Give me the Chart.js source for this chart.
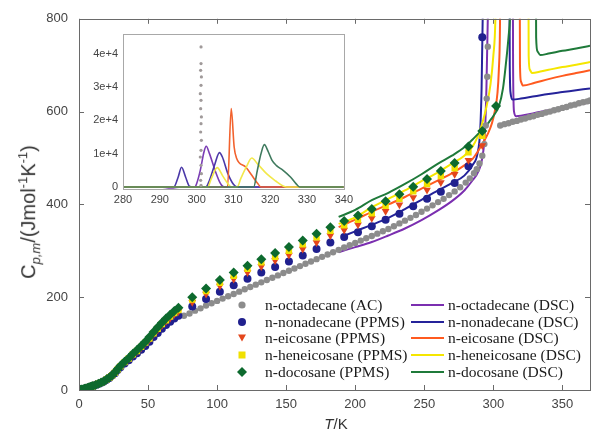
<!DOCTYPE html>
<html>
<head>
<meta charset="utf-8">
<script src="https://cdn.jsdelivr.net/npm/chart.js@4.4.1/dist/chart.umd.min.js"></script>
<style>
  body { margin: 0; background: #fff; }
  #wrap { position: relative; width: 595px; height: 434px; overflow: hidden; font-family: "Liberation Sans", Arial, sans-serif; }
  #main { position: absolute; left: 0; top: 0; }
  #inset { position: absolute; left: 85px; top: 22px; }
  .ytitle { position: absolute; left: 29px; top: 212px; transform: translate(-50%, -50%) rotate(-90deg); white-space: nowrap; font-size: 20px; color: #333; }
  .ytitle sub, .ytitle sup { font-size: 13px; }
  .xtitle { position: absolute; left: 336px; top: 423px; transform: translate(-50%, -50%); font-size: 15px; color: #333; white-space: nowrap; }
  .lg { position: absolute; font-family: "Liberation Serif", "Times New Roman", serif; font-size: 15.5px; color: #1a1a1a; white-space: nowrap; line-height: 16px; }
</style>
</head>
<body>
<div id="wrap">
  <canvas id="main" width="595" height="434"></canvas>
  <canvas id="inset" width="272" height="190"></canvas>
  <div class="ytitle">C<sub><i>p,m</i></sub>/(Jmol<sup>-1</sup>K<sup>-1</sup>)</div>
  <div class="xtitle"><i>T</i>/K</div>
  <div id="legend"></div>
</div>
<script>
// ---- main plot data (T in K, Cp in J/mol/K) ----
const ppmsT = [1,2,3,4,5,6,7,8,9,10,12,14,16,18,20,22,24,26,28,30,33,36,39,42,45,48,51,54,57,60,63,66,69,72,82,92,102,112,122,132,142,152,162,172,182,192,202,212,222,232,242,252,262,272,282,292];

const c19Cp = [0.5,1,1.5,2.5,3.5,4.5,5.5,6.5,7.5,8.5,11,13,15.5,18.5,22,26,31,36,43,49,57,64,72,79,87,95,104,114,123,132,140,147,154,160,180,196,212,226,240,253,265,277,290,304,318,330,340,353,367,380,396,412,427,446,482,760];
const c20Cp = [0.5,1,1.5,2.5,3.5,4.5,5.5,6.5,7.5,8.5,11,13.5,16,19,22.5,26.5,31.5,37,44,50.5,59,67,75,83,91,100,109,120,130,139,148,155,163,169,189,207,224,239,253,266,279,291,304,318,333,345,356,370,385,399,415,431,447,465,495,527];
const c21Cp = [0.5,1,1.5,2.5,3.5,4.5,5.5,6.5,7.5,8.5,11,13.5,16,19,23,27,31.5,37.5,44.5,51,60,68,77,84,93,102,111,122,132,142,150,158,166,172,195,213,231,246,261,275,287,300,314,329,343,355,367,381,397,412,428,444,461,478,512,548];
const c22T = [...ppmsT, 302];
const c22Cp = [0.5,1,1.5,2.5,3.5,4.5,5.5,6.5,7.5,8.5,11,13.5,16,19,23,27,32,38,45,52,61,69,78,86,95,104,114,125,135,145,154,162,170,177,200,219,237,253,268,282,295,308,322,337,351,364,376,390,407,422,438,455,472,489,525,558,612];

const acT = [76,80,84,88,92,96,100,104,108,112,116,120,124,128,132,136,140,144,148,152,156,160,164,168,172,176,180,184,188,192,196,200,204,208,212,216,220,224,228,232,236,240,244,248,252,256,260,264,268,272,276,280,283,286,288,290,292,293.5,294.5,295.2,295.6,296,
  305,308,311,314,317,320,323,326,329,332,335,338,341,344,347,350,353,356,359,362,365,368,370];
const acCp = [160,165,171,176,182,187,192,197,202,207,212,217,222,227,232,237,242,247,252,257,262,267,272,277,282,287,292,297,302,307,312,317,322,327,332,337,342,347,353,359,365,371,377,384,391,398,405,412,420,428,437,447,456,467,476,488,505,530,570,628,675,740,
  570,573,575,578,580,583,585,588,590,593,595,598,600,603,605,608,610,613,615,618,620,622,624];

const dsc18T = [188,200,212,224,236,248,260,270,279,285,289,292,294,295,296,297,314,314.3,315,316.5,320,330,340,350,360,370];
const dsc18Cp = [297,308,319,333,348,366,387,407,430,452,470,500,560,650,800,1000,1000,700,600,590,591,597,603,608,614,620];
const dsc19T = [190,200,212,224,236,248,260,270,279,285,288.5,290.5,291.5,292.3,293,311.6,311.9,312.5,314,320,330,340,350,360,370];
const dsc19Cp = [330,342,356,371,390,410,430,446,462,485,509,560,650,800,1000,1000,700,640,626,628,633,638,642,646,650];
const dsc20T = [188,200,212,224,236,248,260,270,279,285,289,292,296,299,301,303,304,304.8,305.3,319,319.3,320,321.5,330,340,350,360,370];
const dsc20Cp = [351,367,384,400,416,434,452,467,484,498,515,530,552,575,600,640,690,780,1000,1000,700,665,656,662,670,677,683,689];
const dsc21T = [188,200,212,224,236,248,260,270,279,285,288.5,292,295,298,300,301.5,302.5,325.3,325.6,326.5,328,335,340,350,360,370];
const dsc21Cp = [358,372,394,412,430,450,469,488,505,525,545,575,610,660,720,800,1000,1000,720,690,683,687,690,696,701,707];
const dsc22T = [188,200,212,224,236,248,260,270,279,285,289,293,297,301,304,307,309,311,312,314,330.7,331,332,334,340,350,360,370];
const dsc22Cp = [373,388,409,425,444,465,488,505,523,540,552,563,578,595,611,650,700,760,800,1000,1000,760,730,722,725,731,736,742];

const xTicks = [0,50,100,150,200,250,300,350];
const yTicks = [0,200,400,600,800];

// ---- inset data (T in K, heat flow) ----
const inT18 = [280,285,290,293,296,299.5,300,301,302,302.6,303.5,305,306.5,307.5,315,325,340];
const inV18 = [0,0,0,-300,0,0,1000,5000,10500,12200,10000,5000,1000,0,0,0,0];
const inT19 = [280,285,290,293.8,295,295.9,297,298,299,302.5,303.5,305,306.2,307,308.5,310,311,320,340];
const inV19 = [0,0,0,0,3000,5900,3000,300,0,0,2000,7000,10300,9000,4000,800,0,0,0];
const inT20 = [280,290,300,308.4,309.4,310.2,310.8,313.4,315,316.5,317.5,325,340];
const inV20 = [0,0,0,0,23500,12000,8800,5900,3500,1200,0,0,0];
const inT21 = [280,290,300,303,304,305.6,307,308.5,309.5,311,312,313.5,315,316.5,319,321.5,323.5,324.5,330,340];
const inV21 = [0,0,0,0,2500,5800,3500,1000,0,0,2500,6000,8700,7000,4000,1800,300,0,0,0];
const inT22 = [280,290,300,310,315.5,316.5,317.5,318.4,319.5,320.5,321.7,323.5,325.5,327,328,335,340];
const inV22 = [0,0,0,0,0,5000,10000,12700,10500,8000,6400,5000,3000,1000,0,0,0];
const inAcT = [301.2,301.1,301.3,301.2,301.0,301.2,301.3,301.1,301.2,301.3,301.1,301.2,301.0,301.2,301.3,301.1,301.2,301.2];
const inAcV = [500,2000,4000,6500,9000,11000,14000,16500,19000,21000,23500,26000,28000,30500,33000,35000,37000,42000];
const inXTicks = [280,290,300,310,320,330,340];
const inYTicks = [0,10000,20000,30000,40000];

const xy = (ts, vs) => ts.map((t, i) => ({ x: t, y: vs[i] }));

const col = { c18: '#7b2fb0', c19: '#25239a', c20: '#ff5a1f', c21: '#f5e600', c22: '#1f7a3a', ac: '#8c8c8c' };

const framePlugin = {
  id: 'frame',
  afterDraw(chart, args, opts) {
    const { ctx, chartArea: a, scales } = chart;
    ctx.save();
    ctx.strokeStyle = opts.color;
    ctx.lineWidth = 1;
    ctx.strokeRect(Math.round(a.left) + 0.5, Math.round(a.top) + 0.5, Math.round(a.right - a.left), Math.round(a.bottom - a.top));
    if (opts.tick) {
      ctx.beginPath();
      scales.x.ticks.forEach(t => {
        const p = Math.round(scales.x.getPixelForValue(t.value)) + 0.5;
        ctx.moveTo(p, a.bottom); ctx.lineTo(p, a.bottom - opts.tick);
        ctx.moveTo(p, a.top); ctx.lineTo(p, a.top + opts.tick);
      });
      scales.y.ticks.forEach(t => {
        const p = Math.round(scales.y.getPixelForValue(t.value)) + 0.5;
        ctx.moveTo(a.left, p); ctx.lineTo(a.left + opts.tick, p);
        ctx.moveTo(a.right, p); ctx.lineTo(a.right - opts.tick, p);
      });
      ctx.stroke();
    }
    ctx.restore();
  }
};

function pts(label, ts, vs, color, style, r, rot) {
  return { label, data: xy(ts, vs), showLine: false, pointStyle: style, pointRadius: r, pointRotation: rot || 0,
    backgroundColor: color, borderColor: color, pointBorderWidth: 0 };
}
function line(label, ts, vs, color, w) {
  return { label, data: xy(ts, vs), showLine: true, pointRadius: 0, borderColor: color, borderWidth: w,
    cubicInterpolationMode: 'monotone', fill: false };
}

new Chart(document.getElementById('main'), {
  type: 'scatter',
  data: {
    datasets: [
      pts('n-docosane (PPMS)', c22T, c22Cp, '#0d6a2e', 'rectRot', 5),
      pts('n-heneicosane (PPMS)', ppmsT, c21Cp, '#f0e000', 'rect', 4.5),
      pts('n-eicosane (PPMS)', ppmsT, c20Cp, '#e4461c', 'triangle', 4.5, 180),
      pts('n-nonadecane (PPMS)', ppmsT, c19Cp, '#20208e', 'circle', 4),
      pts('n-octadecane (AC)', acT, acCp, col.ac, 'circle', 3.2),
      line('n-docosane (DSC)', dsc22T, dsc22Cp, col.c22, 2),
      line('n-heneicosane (DSC)', dsc21T, dsc21Cp, col.c21, 2),
      line('n-eicosane (DSC)', dsc20T, dsc20Cp, col.c20, 2),
      line('n-nonadecane (DSC)', dsc19T, dsc19Cp, col.c19, 2),
      line('n-octadecane (DSC)', dsc18T, dsc18Cp, col.c18, 2)
    ]
  },
  options: {
    responsive: false,
    animation: false,
    devicePixelRatio: 1,
    layout: { padding: { left: 0, right: 1, top: 18, bottom: 0 } },
    plugins: { legend: { display: false }, tooltip: { enabled: false }, frame: { color: '#6a6a6a', tick: 5 } },
    scales: {
      x: {
        type: 'linear', min: 0, max: 370,
        grid: { display: false, drawTicks: false }, border: { display: false },
        ticks: { color: '#444', font: { family: 'Liberation Sans', size: 13 }, padding: 7 },
        afterBuildTicks: s => { s.ticks = xTicks.map(v => ({ value: v })); },
        afterFit: s => { s.height = 44; }
      },
      y: {
        type: 'linear', min: 0, max: 800,
        grid: { display: false, drawTicks: false }, border: { display: false },
        ticks: { color: '#444', font: { family: 'Liberation Sans', size: 13 }, padding: 11 },
        afterBuildTicks: s => { s.ticks = yTicks.map(v => ({ value: v })); },
        afterFit: s => { s.width = 79; }
      }
    }
  },
  plugins: [framePlugin]
});

function iline(ts, vs, color) {
  return { data: xy(ts, vs), showLine: true, pointRadius: 0, borderColor: color, borderWidth: 1.6, cubicInterpolationMode: 'monotone' };
}

new Chart(document.getElementById('inset'), {
  type: 'scatter',
  data: {
    datasets: [
      { data: xy(inAcT, inAcV), showLine: false, pointRadius: 1.6, backgroundColor: '#a09a9a', borderColor: '#a09a9a', pointBorderWidth: 0 },
      iline(inT22, inV22, '#3f7a5e'),
      iline(inT21, inV21, '#f2e84a'),
      iline(inT20, inV20, '#f2622e'),
      iline(inT19, inV19, '#4a38a8'),
      iline(inT18, inV18, '#7a3cb4')
    ]
  },
  options: {
    responsive: false,
    animation: false,
    devicePixelRatio: 1,
    layout: { padding: { left: 0, right: 12, top: 6, bottom: 0 } },
    plugins: { legend: { display: false }, tooltip: { enabled: false }, frame: { color: '#a8a8a8', tick: 0 } },
    scales: {
      x: {
        type: 'linear', min: 280, max: 340,
        grid: { display: false, drawTicks: false }, border: { display: false },
        ticks: { color: '#444', font: { family: 'Liberation Sans', size: 11 }, padding: 4 },
        afterBuildTicks: s => { s.ticks = inXTicks.map(v => ({ value: v })); },
        afterFit: s => { s.height = 23; }
      },
      y: {
        type: 'linear', min: -600, max: 46000,
        grid: { display: false, drawTicks: false }, border: { display: false },
        ticks: { color: '#444', font: { family: 'Liberation Sans', size: 11 }, padding: 5,
          callback: v => v === 0 ? '0' : (v / 10000) + 'e+4' },
        afterBuildTicks: s => { s.ticks = inYTicks.map(v => ({ value: v })); },
        afterFit: s => { s.width = 38; }
      }
    }
  },
  plugins: [framePlugin]
});

// ---- legend ----
const lgNames = ['n-octadecane', 'n-nonadecane', 'n-eicosane', 'n-heneicosane', 'n-docosane'];
const lgMethods = ['(AC)', '(PPMS)', '(PPMS)', '(PPMS)', '(PPMS)'];
const lgMarkColors = [col.ac, '#20208e', '#e4461c', '#f0e000', '#0d6a2e'];
const lgLineColors = [col.c18, col.c19, col.c20, col.c21, col.c22];
const lgShapes = [
  c => `<circle cx="5" cy="5" r="3.6" fill="${c}"/>`,
  c => `<circle cx="5" cy="5" r="4" fill="${c}"/>`,
  c => `<polygon points="1,1.5 9,1.5 5,8.5" fill="${c}"/>`,
  c => `<rect x="1.5" y="1.5" width="7" height="7" fill="${c}"/>`,
  c => `<polygon points="5,0 10,5 5,10 0,5" fill="${c}"/>`
];
const lg = document.getElementById('legend');
lgNames.forEach((n, i) => {
  const cy = 305 + i * 16.7;
  lg.insertAdjacentHTML('beforeend',
    `<svg style="position:absolute;left:237px;top:${cy - 5}px" width="10" height="10">${lgShapes[i](lgMarkColors[i])}</svg>` +
    `<div class="lg" style="left:265px;top:${cy - 8}px">${n} ${lgMethods[i]}</div>` +
    `<svg style="position:absolute;left:411px;top:${cy - 2}px" width="33" height="4"><line x1="0" y1="2" x2="33" y2="2" stroke="${lgLineColors[i]}" stroke-width="2"/></svg>` +
    `<div class="lg" style="left:448px;top:${cy - 8}px">${n} (DSC)</div>`);
});
</script>
</body>
</html>
